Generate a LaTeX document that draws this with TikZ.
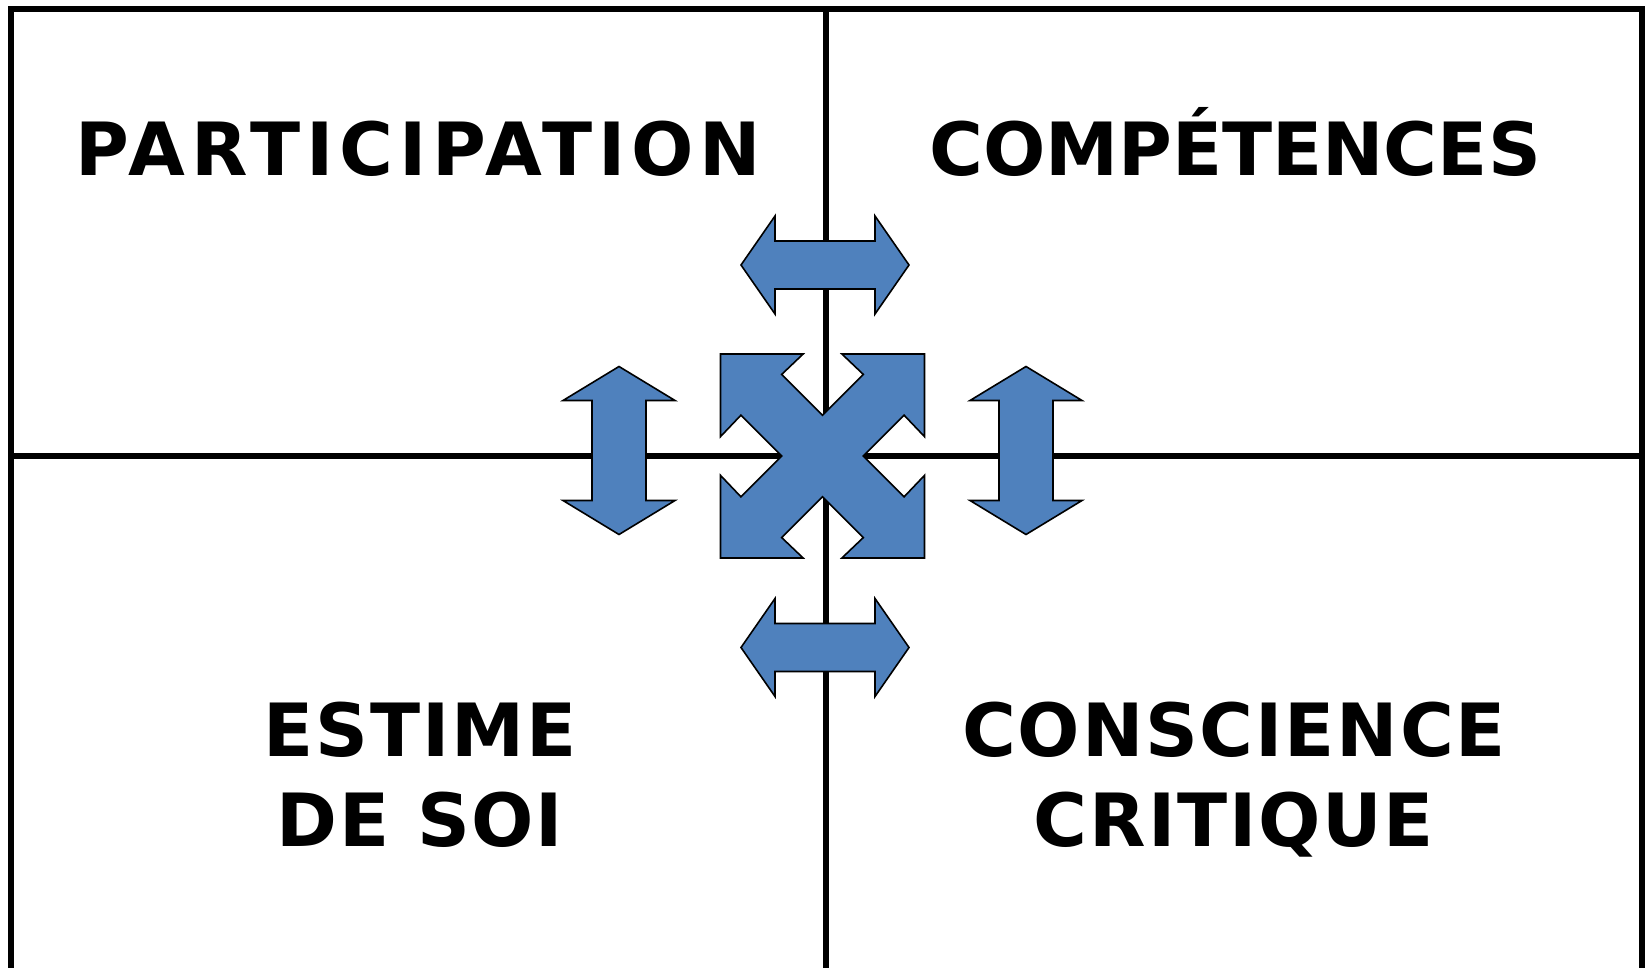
\documentclass[tikz,border=0pt]{standalone}
\usepackage{fontspec}
\setsansfont{DejaVu Sans}
\usetikzlibrary{positioning}

\definecolor{arrowblue}{HTML}{4F81BD}
\newcommand\quadfont{\sffamily\bfseries\fontsize{73.4}{89.7}\selectfont}

\begin{document}
\begin{tikzpicture}[x=1pt, y=-1pt,
  frame/.style={line width=5.8pt, line join=miter},
  bluearrow/.style={fill=arrowblue, draw=black, line width=1.6pt, line join=miter},
  quadtext/.style={font=\quadfont, align=center, inner sep=0pt, anchor=base},
  spaced/.style={font=\quadfont\addfontfeature{LetterSpace=#1}}]
\useasboundingbox (0,0) rectangle (1648,968);
% the four quadrants
\draw[frame] (11,968) -- (11,9) -- (1642,9) -- (1642,968);
\draw[frame] (11,456) -- (1642,456);
\draw[frame] (826,9) -- (826,968);

\node[quadtext, spaced=8] (part) at (418.5,176) {PARTICIPATION};
\node[quadtext] (comp) at (1235,176) {COMPÉTENCES};
\node[quadtext, spaced=2.5] (estime) at (420,846) {ESTIME\\DE SOI};
\node[quadtext, spaced=2.5] (consc) at (1234,846) {CONSCIENCE\\CRITIQUE};

% double arrows
\draw[bluearrow, shift={(825,265)}] (-84,0) -- (-50,-49) -- (-50,-24) -- (50,-24) -- (50,-49) -- (84,0)
  -- (50,49) -- (50,24) -- (-50,24) -- (-50,49) -- cycle;
\draw[bluearrow, shift={(825,647.5)}] (-84,0) -- (-50,-49) -- (-50,-24) -- (50,-24) -- (50,-49) -- (84,0)
  -- (50,49) -- (50,24) -- (-50,24) -- (-50,49) -- cycle;
\draw[bluearrow, shift={(619,450.5)}] (0,-84) -- (56,-50) -- (27,-50) -- (27,50) -- (56,50) -- (0,84)
  -- (-56,50) -- (-27,50) -- (-27,-50) -- (-56,-50) -- cycle;
\draw[bluearrow, shift={(1026,450.5)}] (0,-84) -- (56,-50) -- (27,-50) -- (27,50) -- (56,50) -- (0,84)
  -- (-56,50) -- (-27,50) -- (-27,-50) -- (-56,-50) -- cycle;

% four-way arrow in the middle
\draw[bluearrow, shift={(822.5,456)}, scale=102]
  (-1,-1) -- (-0.19,-1) -- (-0.4,-0.8) -- (0,-0.4) -- (0.4,-0.8) -- (0.19,-1) -- (1,-1)
  -- (1,-0.19) -- (0.8,-0.4) -- (0.4,0) -- (0.8,0.4) -- (1,0.19) -- (1,1)
  -- (0.19,1) -- (0.4,0.8) -- (0,0.4) -- (-0.4,0.8) -- (-0.19,1) -- (-1,1)
  -- (-1,0.19) -- (-0.8,0.4) -- (-0.4,0) -- (-0.8,-0.4) -- (-1,-0.19) -- cycle;
\end{tikzpicture}
\end{document}
